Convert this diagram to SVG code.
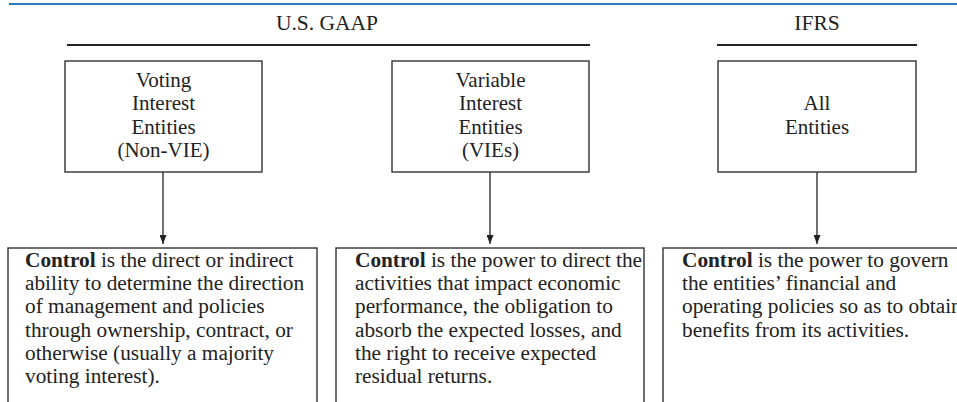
<svg xmlns="http://www.w3.org/2000/svg" width="957" height="402" viewBox="0 0 957 402">
<defs>
<marker id="ah" markerWidth="9" markerHeight="7" refX="9" refY="3.5" orient="auto" markerUnits="userSpaceOnUse" viewBox="0 0 9 7">
<path d="M0,0 L9,3.5 L0,7 Z" fill="#222"/>
</marker>
</defs>
<style>
text{font-family:'Liberation Serif','Tinos','DejaVu Serif',serif;font-size:21px;fill:#222}
.c{text-anchor:middle}
.b{font-weight:bold}
.d text{font-size:21.3px}
.box{fill:#fff;stroke:#333;stroke-width:1.4}
.hl{stroke:#222;stroke-width:2.2}
.conn line{stroke:#222;stroke-width:1.3}
</style>
<rect width="957" height="402" fill="#fff"/>
<line x1="9" y1="4" x2="957" y2="4" stroke="#2a7bbf" stroke-width="2"/>
<g id="gaap-header">
<text class="c" x="327" y="30" style="font-size:21.5px">U.S. GAAP</text>
<line class="hl" x1="67" y1="45" x2="590" y2="45"/>
</g>
<g id="ifrs-header">
<text class="c" x="817" y="30" style="font-size:21.5px">IFRS</text>
<line class="hl" x1="717" y1="45" x2="917" y2="45"/>
</g>
<g id="voting">
<rect class="box" x="65" y="61" width="197" height="111"/>
<text class="c" x="163.5" y="87">Voting</text>
<text class="c" x="163.5" y="110">Interest</text>
<text class="c" x="163.5" y="134">Entities</text>
<text class="c" x="163.5" y="157">(Non-VIE)</text>
</g>
<g id="variable">
<rect class="box" x="392" y="61" width="197" height="111"/>
<text class="c" x="490.5" y="87">Variable</text>
<text class="c" x="490.5" y="110">Interest</text>
<text class="c" x="490.5" y="134">Entities</text>
<text class="c" x="490.5" y="157">(VIEs)</text>
</g>
<g id="all">
<rect class="box" x="718" y="61" width="198" height="111"/>
<text class="c" x="817" y="110">All</text>
<text class="c" x="817" y="134">Entities</text>
</g>
<g id="def-voting" class="d">
<rect class="box" x="8" y="248" width="309" height="180"/>
<text x="25" y="266.5"><tspan class="b">Control</tspan> is the direct or indirect</text>
<text x="25" y="290">ability to determine the direction</text>
<text x="25" y="313">of management and policies</text>
<text x="25" y="336.5">through ownership, contract, or</text>
<text x="25" y="360">otherwise (usually a majority</text>
<text x="25" y="383">voting interest).</text>
</g>
<g id="def-variable" class="d">
<rect class="box" x="336" y="248" width="308" height="180"/>
<text x="355" y="266.5"><tspan class="b">Control</tspan> is the power to direct the</text>
<text x="355" y="290">activities that impact economic</text>
<text x="355" y="313">performance, the obligation to</text>
<text x="355" y="336.5">absorb the expected losses, and</text>
<text x="355" y="360">the right to receive expected</text>
<text x="355" y="383">residual returns.</text>
</g>
<g id="def-all" class="d">
<rect class="box" x="663" y="248" width="320" height="180"/>
<text x="682" y="266.5"><tspan class="b">Control</tspan> is the power to govern</text>
<text x="682" y="290">the entities’ financial and</text>
<text x="682" y="313">operating policies so as to obtain</text>
<text x="682" y="336.5">benefits from its activities.</text>
</g>
<g id="connectors" class="conn">
<line x1="163" y1="172" x2="163" y2="244" marker-end="url(#ah)"/>
<line x1="490" y1="172" x2="490" y2="244" marker-end="url(#ah)"/>
<line x1="817" y1="172" x2="817" y2="244" marker-end="url(#ah)"/>
</g>
</svg>
